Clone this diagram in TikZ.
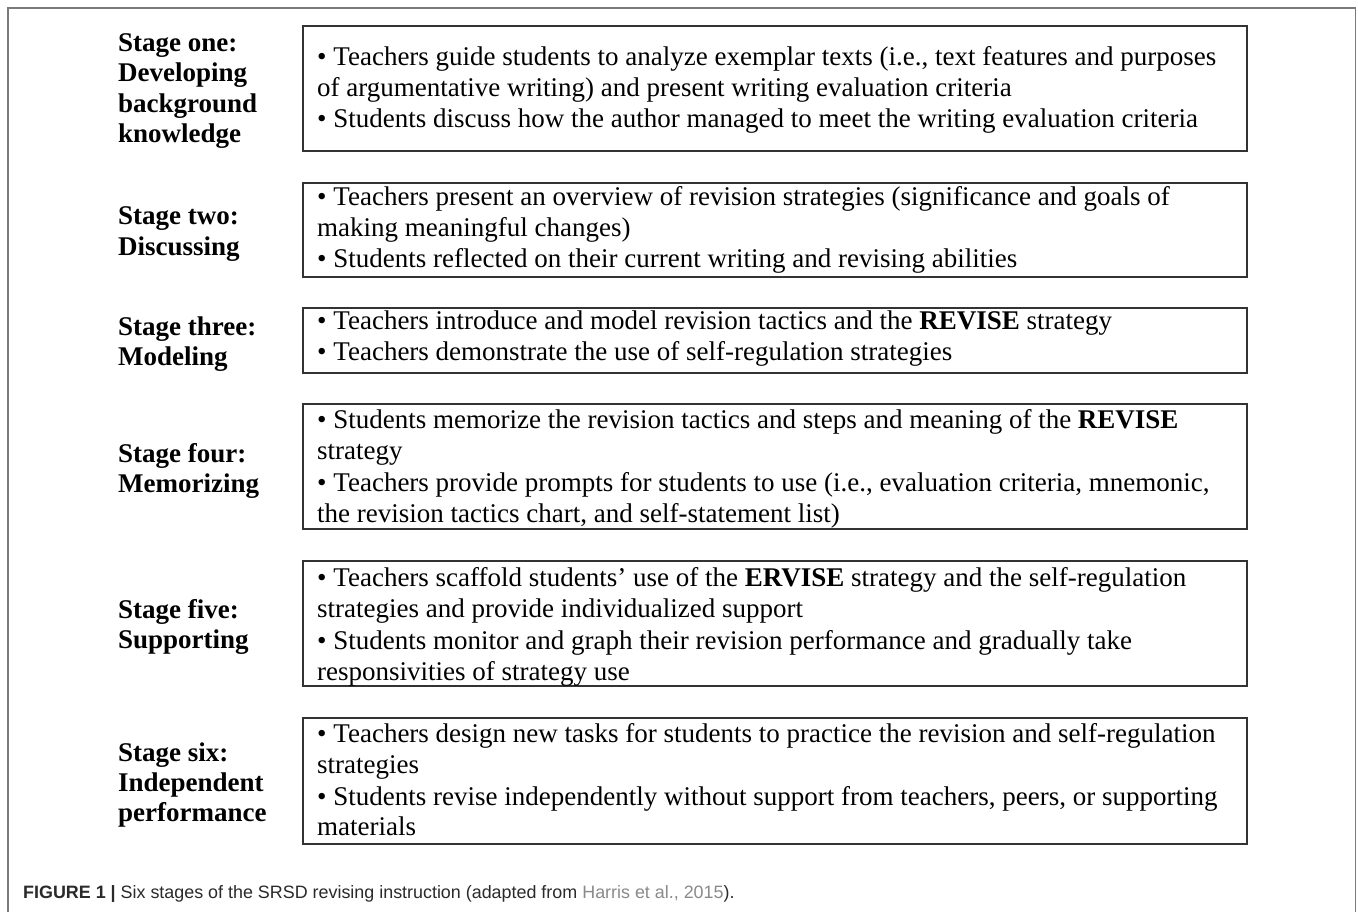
\documentclass[tikz,border=0pt]{standalone}
\usepackage{fontspec}
\setmainfont{Liberation Serif}
\newfontfamily\capfont{Liberation Sans}
\definecolor{framegray}{HTML}{7A7A7A}
\definecolor{boxline}{HTML}{333333}
\definecolor{citegray}{HTML}{8A8A8A}
\definecolor{captext}{HTML}{2A2A2A}
\tikzset{
  stagebox/.style={draw=boxline, line width=1.3pt},
  bodyline/.style={font=\fontsize{27}{31}\selectfont, inner sep=0pt, anchor=base west},
  stagelabel/.style={font=\fontsize{27}{31}\selectfont\bfseries, inner sep=0pt, anchor=base west},
  captionline/.style={font=\capfont\fontsize{17.9}{21}\selectfont, text=captext, inner sep=0pt, anchor=base west}
}
\begin{document}
\begin{tikzpicture}[x=1pt,y=-1pt]
\useasboundingbox (0,0) rectangle (1358,912);
\fill[white] (0,0) rectangle (1358,912);

% outer frame (open at the bottom)
\draw[framegray, line width=1.6pt] (8,915) -- (8,8) -- (1355.5,8) -- (1355.5,915);

% stage boxes
\draw[stagebox] (303,26) rectangle (1247,151);
\draw[stagebox] (303,183) rectangle (1247,277);
\draw[stagebox] (303,308) rectangle (1247,373);
\draw[stagebox] (303,404) rectangle (1247,529);
\draw[stagebox] (303,561) rectangle (1247,686);
\draw[stagebox] (303,718) rectangle (1247,844);

% stage one
\node[stagelabel] (s1a) at (118,52) {Stage one:};
\node[stagelabel] (s1b) at (118,82) {Developing};
\node[stagelabel] (s1c) at (118,113) {background};
\node[stagelabel] (s1d) at (118,143) {knowledge};
\node[bodyline] (b1a) at (317,66) {• Teachers guide students to analyze exemplar texts (i.e., text features and purposes};
\node[bodyline] (b1b) at (317,97) {of argumentative writing) and present writing evaluation criteria};
\node[bodyline] (b1c) at (317,128) {• Students discuss how the author managed to meet the writing evaluation criteria};

% stage two
\node[stagelabel] (s2a) at (118,225) {Stage two:};
\node[stagelabel] (s2b) at (118,255) {Discussing};
\node[bodyline] (b2a) at (317,206) {• Teachers present an overview of revision strategies (significance and goals of};
\node[bodyline] (b2b) at (317,237) {making meaningful changes)};
\node[bodyline] (b2c) at (317,268) {• Students reflected on their current writing and revising abilities};

% stage three
\node[stagelabel] (s3a) at (118,335) {Stage three:};
\node[stagelabel] (s3b) at (118,365) {Modeling};
\node[bodyline] (b3a) at (317,329) {• Teachers introduce and model revision tactics and the \textbf{REVISE} strategy};
\node[bodyline] (b3b) at (317,360) {• Teachers demonstrate the use of self-regulation strategies};

% stage four
\node[stagelabel] (s4a) at (118,462) {Stage four:};
\node[stagelabel] (s4b) at (118,492) {Memorizing};
\node[bodyline] (b4a) at (317,428) {• Students memorize the revision tactics and steps and meaning of the \textbf{REVISE}};
\node[bodyline] (b4b) at (317,459.5) {strategy};
\node[bodyline] (b4c) at (317,491) {• Teachers provide prompts for students to use (i.e., evaluation criteria, mnemonic,};
\node[bodyline] (b4d) at (317,522) {the revision tactics chart, and self-statement list)};

% stage five
\node[stagelabel] (s5a) at (118,618) {Stage five:};
\node[stagelabel] (s5b) at (118,648) {Supporting};
\node[bodyline] (b5a) at (317,586) {• Teachers scaffold students’ use of the \textbf{ERVISE} strategy and the self-regulation};
\node[bodyline] (b5b) at (317,617.5) {strategies and provide individualized support};
\node[bodyline] (b5c) at (317,649) {• Students monitor and graph their revision performance and gradually take};
\node[bodyline] (b5d) at (317,680) {responsivities of strategy use};

% stage six
\node[stagelabel] (s6a) at (118,761) {Stage six:};
\node[stagelabel] (s6b) at (118,791) {Independent};
\node[stagelabel] (s6c) at (118,821) {performance};
\node[bodyline] (b6a) at (317,742) {• Teachers design new tasks for students to practice the revision and self-regulation};
\node[bodyline] (b6b) at (317,773) {strategies};
\node[bodyline] (b6c) at (317,805) {• Students revise independently without support from teachers, peers, or supporting};
\node[bodyline] (b6d) at (317,835) {materials};

% caption
\node[captionline] (cap) at (23,898) {\textbf{FIGURE 1 |} Six stages of the SRSD revising instruction (adapted from \textcolor{citegray}{Harris et al., 2015}).};
\end{tikzpicture}
\end{document}
